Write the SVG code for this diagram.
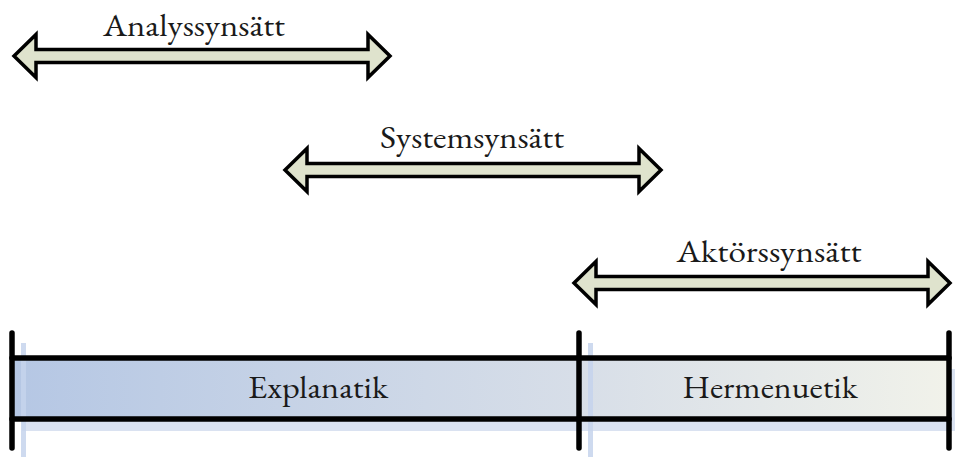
<svg xmlns="http://www.w3.org/2000/svg" width="955" height="457" viewBox="0 0 955 457">
<style>
.arrow{fill:#dfe3cd;stroke:#000;stroke-width:3.5;stroke-linejoin:miter}
.lbl{font-family:"EB Garamond","Liberation Serif","Times New Roman",serif;font-size:31px;fill:#1a1a1a;text-anchor:middle}
.bar{stroke:#000;stroke-width:5.5;stroke-linecap:round;fill:none}
.shadow{stroke:#c6d4ec;stroke-width:5;opacity:0.85;fill:none}
</style>
<defs>
<path id="dblarrow" d="M14,56 L36,34.5 L36,49.5 L368,49.5 L368,34.5 L390,56 L368,77.5 L368,62.5 L36,62.5 L36,77.5 Z"/>
<linearGradient id="barfill" x1="12" y1="0" x2="949" y2="0" gradientUnits="userSpaceOnUse">
<stop offset="0" stop-color="#b5c7e4"/>
<stop offset="0.6" stop-color="#d7dee8"/>
<stop offset="1" stop-color="#f1f2ea"/>
</linearGradient>
</defs>
<g id="analyssynsatt">
<use href="#dblarrow" class="arrow"/>
<text class="lbl" x="194" y="36" textLength="182" lengthAdjust="spacingAndGlyphs">Analyssynsätt</text>
</g>
<g id="systemsynsatt">
<use href="#dblarrow" class="arrow" transform="translate(271,114)"/>
<text class="lbl" x="472" y="148" textLength="184" lengthAdjust="spacingAndGlyphs">Systemsynsätt</text>
</g>
<g id="aktorssynsatt">
<use href="#dblarrow" class="arrow" transform="translate(560,227)"/>
<text class="lbl" x="769" y="262" textLength="185" lengthAdjust="spacingAndGlyphs">Aktörssynsätt</text>
</g>
<g id="scale">
<rect x="22" y="369" width="940" height="62" fill="#d3ddee" opacity="0.85"/>
<rect x="12" y="358" width="937" height="61" fill="url(#barfill)"/>
<line class="shadow" x1="23.5" y1="343" x2="23.5" y2="457"/>
<line class="shadow" x1="590.5" y1="343" x2="590.5" y2="457"/>
<line class="bar" x1="12" y1="358" x2="949" y2="358"/>
<line class="bar" x1="12" y1="419" x2="949" y2="419"/>
<line class="bar" x1="12" y1="333" x2="12" y2="448"/>
<line class="bar" x1="579" y1="333" x2="579" y2="448"/>
<line class="bar" x1="949" y1="333" x2="949" y2="448"/>
</g>
<g id="explanatik">
<text class="lbl" x="318" y="398" textLength="140" lengthAdjust="spacingAndGlyphs">Explanatik</text>
</g>
<g id="hermenuetik">
<text class="lbl" x="770" y="398" textLength="175" lengthAdjust="spacingAndGlyphs">Hermenuetik</text>
</g>
</svg>
